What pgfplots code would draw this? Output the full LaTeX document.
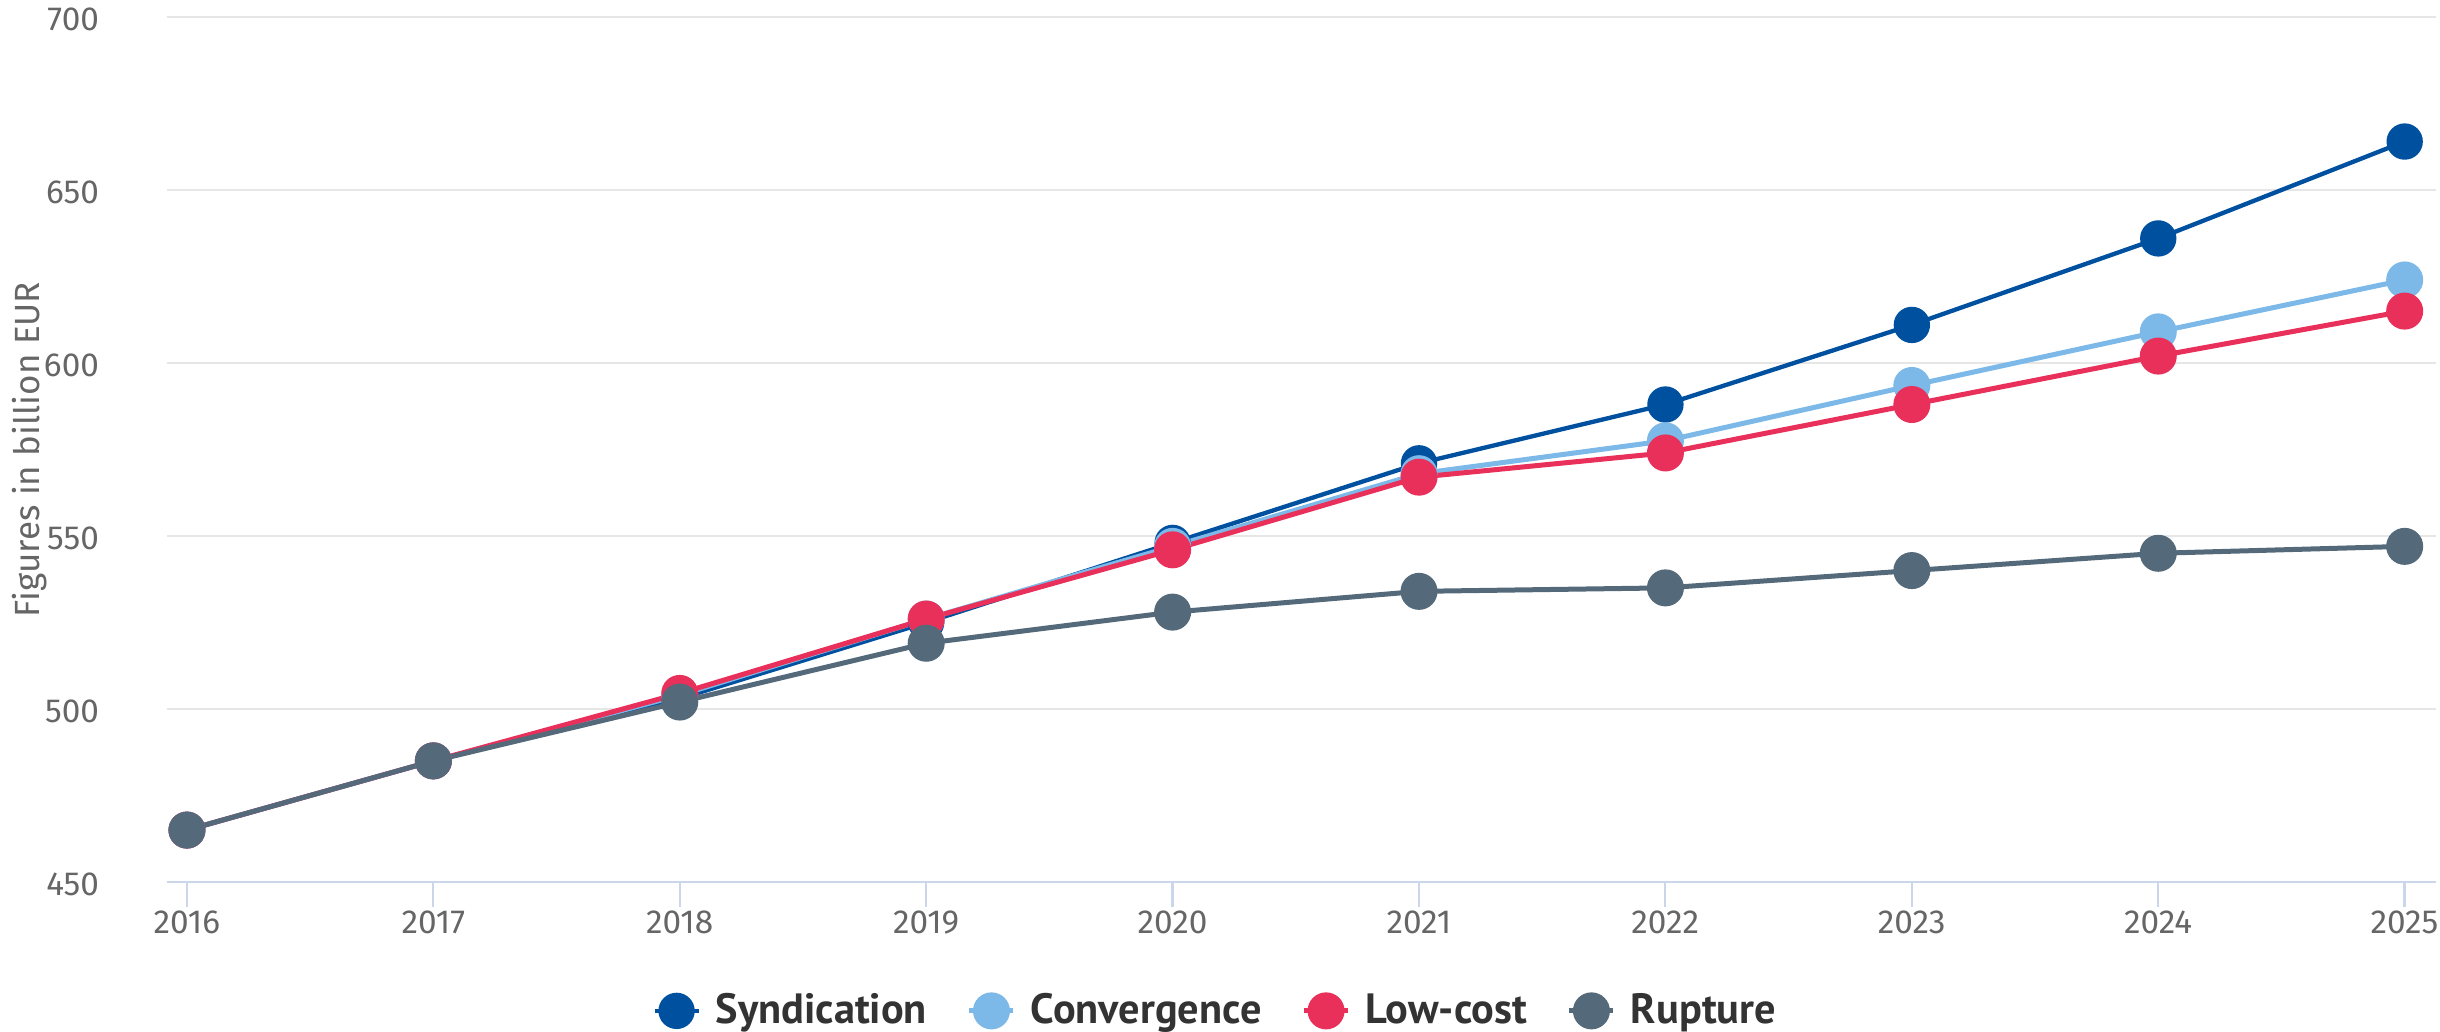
\documentclass[border=0pt]{standalone}
\usepackage{fontspec}
\setmainfont{Fira Sans}
\newfontfamily\legfont{PT Sans}
\usepackage{pgfplots}
\pgfplotsset{compat=1.18}
\definecolor{syn}{RGB}{0,80,160}
\definecolor{conv}{RGB}{124,185,232}
\definecolor{low}{RGB}{232,48,90}
\definecolor{rup}{RGB}{84,106,123}
\definecolor{axiscol}{RGB}{204,214,235}
\definecolor{gridcol}{RGB}{230,230,230}
\definecolor{tickcol}{RGB}{102,102,102}
\definecolor{legcol}{RGB}{51,51,51}
\begin{document}
\begin{tikzpicture}[x=1pt,y=1pt]
\useasboundingbox (0,0) rectangle (732,309.6);
\begin{axis}[
  at={(50.1pt,45pt)}, anchor=south west,
  scale only axis, width=680.7pt, height=259.5pt,
  xmin=2015.919, xmax=2025.127, ymin=450, ymax=700,
  xtick={2016,2017,...,2025}, ytick={450,500,...,700},
  /pgf/number format/assume math mode=true,
  /pgf/number format/1000 sep={},
  tick label style={font=\fontsize{10}{12}\selectfont, text=tickcol},
  xticklabel style={anchor=north, inner sep=0pt, yshift=-0.9pt},
  yticklabel style={anchor=east, xshift=-9.4pt, yshift=-0.6pt},
  axis x line*=bottom, axis y line*=left,
  x axis line style={draw=axiscol, line width=0.7pt, -},
  y axis line style={draw=none},
  xtick style={draw=axiscol, line width=0.7pt},
  ytick style={draw=none},
  tick align=outside, major tick length=7.5pt,
  ymajorgrids, grid style={draw=gridcol, line width=0.6pt},
  ylabel={Figures in billion EUR},
  ylabel style={at={(axis description cs:-0.0604,0.5)}, anchor=center, font=\fontsize{10.5}{12}\selectfont, text=tickcol},
  legend columns=4,
  legend style={at={(0.463,-0.149)}, anchor=center, draw=none, fill=none,
    font=\legfont\bfseries\fontsize{12.7}{14}\selectfont, text=legcol,
    /tikz/every even column/.append style={column sep=10pt}},
  legend image code/.code={\draw[mark repeat=2,mark phase=2,#1] plot coordinates {(0pt,0pt) (6.6pt,0pt) (13.2pt,0pt)};},
  every axis plot/.append style={line width=1.5pt, mark=*, mark size=4.8pt},
]
\addplot[color=syn, line width=1.3pt, mark options={draw=none, fill=syn}] coordinates {
 (2016,465) (2017,485) (2018,503) (2019,525) (2020,548) (2021,571) (2022,588) (2023,611) (2024,636) (2025,664)};
\addlegendentry{\hspace*{2.5pt}Syndication}
\addplot[color=conv, mark options={draw=none, fill=conv}] coordinates {
 (2016,465) (2017,485) (2018,504) (2019,526) (2020,547) (2021,568) (2022,577.5) (2023,593.5) (2024,609) (2025,624)};
\addlegendentry{\hspace*{2.5pt}Convergence}
\addplot[color=low, mark options={draw=none, fill=low}] coordinates {
 (2016,465) (2017,485) (2018,504.5) (2019,526) (2020,546) (2021,567) (2022,574) (2023,588) (2024,602) (2025,615)};
\addlegendentry{\hspace*{2.5pt}Low-cost}
\addplot[color=rup, mark options={draw=none, fill=rup}] coordinates {
 (2016,465) (2017,485) (2018,502) (2019,519) (2020,528) (2021,534) (2022,535) (2023,540) (2024,545) (2025,547)};
\addlegendentry{\hspace*{2.5pt}Rupture}
\end{axis}
\end{tikzpicture}
\end{document}
